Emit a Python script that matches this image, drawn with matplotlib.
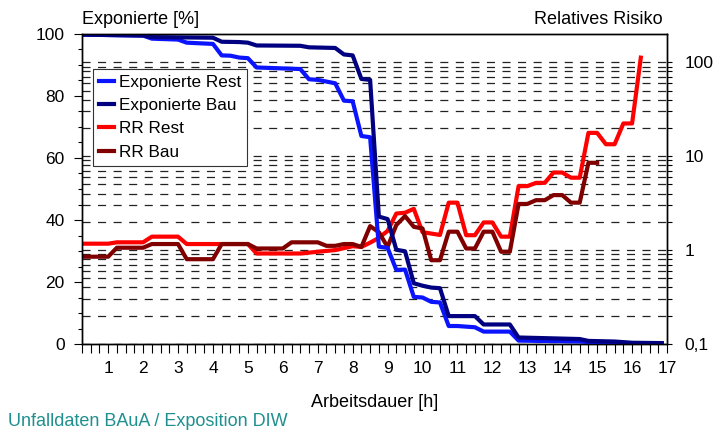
import matplotlib
matplotlib.use("Agg")
import matplotlib.pyplot as plt
from matplotlib.ticker import MultipleLocator, FixedLocator, NullFormatter

plt.rcParams['font.family'] = ['Liberation Sans', 'DejaVu Sans']
plt.rcParams['lines.scale_dashes'] = False

# Exponierte [%] (left axis), x = Arbeitsdauer [h]
exp_rest_h = [0.25, 2.0, 2.25, 3.0, 3.25, 4.0, 4.25, 4.5, 4.75, 5.0, 5.25, 6.5, 6.75, 7.0, 7.5,
              7.75, 8.0, 8.25, 8.5, 8.75, 9.0, 9.25, 9.5, 9.75, 10.0, 10.25, 10.5, 10.75, 11.0,
              11.5, 11.75, 12.5, 12.75, 14.5, 15.0, 16.0, 16.85]
exp_rest = [99.8, 99.5, 98.5, 98.2, 97.2, 96.8, 93.1, 93.0, 92.4, 92.2, 89.2, 88.7, 85.4, 85.2, 84.1,
            78.5, 78.3, 67.1, 66.7, 31.4, 31.0, 23.9, 24.0, 15.2, 15.0, 13.6, 13.4, 5.8, 5.8,
            5.4, 4.0, 4.0, 1.1, 0.8, 0.5, 0.3, 0.2]

exp_bau_h = [0.25, 2.0, 2.25, 4.0, 4.25, 4.75, 5.0, 5.25, 6.5, 6.75, 7.5, 7.75, 8.0, 8.25, 8.5,
             8.75, 9.0, 9.25, 9.5, 9.75, 10.0, 10.25, 10.5, 10.75, 11.5, 11.75, 12.5, 12.75,
             14.5, 14.75, 15.5, 16.0, 16.85]
exp_bau = [99.8, 99.5, 99.0, 98.8, 97.5, 97.4, 97.2, 96.3, 96.2, 95.7, 95.5, 93.4, 93.1, 85.5, 85.2,
           41.1, 40.3, 30.4, 29.9, 19.6, 18.8, 18.2, 18.0, 9.0, 9.0, 6.3, 6.3, 2.1,
           1.6, 1.0, 0.8, 0.4, 0.3]

# Relatives Risiko (right axis, log)
rr_rest_h = [0.25, 1.0, 1.25, 2.0, 2.25, 3.0, 3.25, 5.0, 5.25, 6.5, 7.0, 7.5, 8.0, 8.25, 8.5, 8.75,
             9.0, 9.25, 9.5, 9.75, 10.0, 10.5, 10.75, 11.0, 11.25, 11.5, 11.75, 12.0, 12.25, 12.5,
             12.75, 13.0, 13.25, 13.5, 13.75, 14.0, 14.25, 14.5, 14.75, 15.0, 15.25, 15.5, 15.75,
             16.0, 16.25]
rr_rest = [1.17, 1.17, 1.21, 1.21, 1.39, 1.39, 1.16, 1.16, 0.92, 0.92, 0.96, 1.0, 1.1, 1.08, 1.2, 1.35,
           1.6, 2.45, 2.5, 2.75, 1.55, 1.45, 3.2, 3.2, 1.44, 1.44, 1.97, 1.97, 1.39, 1.39,
           4.8, 4.8, 5.2, 5.2, 6.7, 6.7, 5.9, 5.9, 17.7, 17.7, 13.4, 13.4, 22.3,
           22.3, 112.0]

rr_bau_h = [0.25, 1.0, 1.25, 2.0, 2.25, 3.0, 3.25, 4.0, 4.25, 5.0, 5.25, 6.0, 6.25, 7.0, 7.25, 7.5,
            7.75, 8.0, 8.25, 8.5, 8.75, 9.0, 9.25, 9.5, 9.75, 10.0, 10.25, 10.5, 10.75, 11.0, 11.25,
            11.5, 11.75, 12.0, 12.25, 12.5, 12.75, 13.0, 13.25, 13.5, 13.75, 14.0, 14.25, 14.5,
            14.75, 15.0]
rr_bau = [0.85, 0.85, 1.06, 1.06, 1.16, 1.16, 0.80, 0.80, 1.16, 1.16, 1.04, 1.04, 1.21, 1.21, 1.11, 1.11,
          1.16, 1.16, 1.08, 1.8, 1.55, 1.08, 1.85, 2.3, 1.77, 1.7, 0.78, 0.78, 1.57, 1.57, 1.04,
          1.04, 1.57, 1.57, 0.96, 0.96, 3.1, 3.1, 3.4, 3.4, 3.85, 3.85, 3.2, 3.2,
          8.5, 8.5]

x_ticks = list(range(1, 18))
rr_ticks = [0.1, 1, 10, 100]
rr_ticklabels = ["0,1", "1", "10", "100"]

fig = plt.figure(figsize=(7.19, 4.32), dpi=100)
ax = fig.add_axes([0.114, 0.2037, 0.8137, 0.7176])
ax2 = ax.twinx()
ax.set_zorder(ax2.get_zorder() + 1)
ax.patch.set_visible(False)

# right axis: relative risk, log scale with dashed grid
l3, = ax2.plot(rr_rest_h, rr_rest, color='#ff0000', lw=3, label='RR Rest')
l4, = ax2.plot(rr_bau_h, rr_bau, color='#800000', lw=3, label='RR Bau')
ax2.set_yscale('log')
ax2.set_ylim(0.1, 200)
ax2.yaxis.set_major_locator(FixedLocator(rr_ticks))
ax2.set_yticklabels(rr_ticklabels)
minor = [m * d for d in (0.1, 1, 10) for m in range(2, 10)]
ax2.yaxis.set_minor_locator(FixedLocator(minor))
ax2.yaxis.set_minor_formatter(NullFormatter())
ax2.set_axisbelow(True)
ax2.grid(True, which='both', axis='y', color='#222222', lw=0.9, linestyle=(0, (5.8, 5.4)))
ax2.tick_params(axis='y', which='both', direction='out', length=3.5, width=0.8, pad=9, labelsize=12.5)

# left axis: exposed share
l1, = ax.plot(exp_rest_h, exp_rest, color='#0a14ff', lw=3, label='Exponierte Rest')
l2, = ax.plot(exp_bau_h, exp_bau, color='#000080', lw=3, label='Exponierte Bau')
ax.set_xlim(0.25, 17)
ax.set_ylim(0, 100)
ax.yaxis.set_major_locator(MultipleLocator(20))
ax.yaxis.set_minor_locator(MultipleLocator(5))
ax.set_xticks(x_ticks)
ax.xaxis.set_minor_locator(MultipleLocator(0.25))
ax.tick_params(axis='y', which='major', direction='out', length=5.5, width=0.8, pad=7, labelsize=12.5)
ax.tick_params(axis='y', which='minor', direction='out', length=3, width=0.8)
ax.tick_params(axis='x', which='both', direction='out', length=6.5, width=0.8, pad=6, labelsize=12.5)

for a in (ax, ax2):
    for s in a.spines.values():
        s.set_linewidth(1.0)

ax.text(0, 1.02, "Exponierte [%]", transform=ax.transAxes, ha='left', va='bottom', fontsize=13)
ax.text(0.993, 1.02, "Relatives Risiko", transform=ax.transAxes, ha='right', va='bottom', fontsize=13)
ax.set_xlabel("Arbeitsdauer [h]", fontsize=13, labelpad=13)
fig.text(0.011, 0.025, "Unfalldaten BAuA / Exposition DIW", color='#1f8f8f', fontsize=13,
         ha='left', va='center')

leg = ax.legend(handles=[l1, l2, l3, l4], loc='upper left', bbox_to_anchor=(0.0188, 0.887),
                borderaxespad=0, fontsize=12.3, handlelength=0.9, handletextpad=0.25,
                labelspacing=0.48, fancybox=False, framealpha=1, edgecolor='#333333',
                borderpad=0.35)
leg.get_frame().set_linewidth(0.8)

fig.savefig("out.png", dpi=100)
